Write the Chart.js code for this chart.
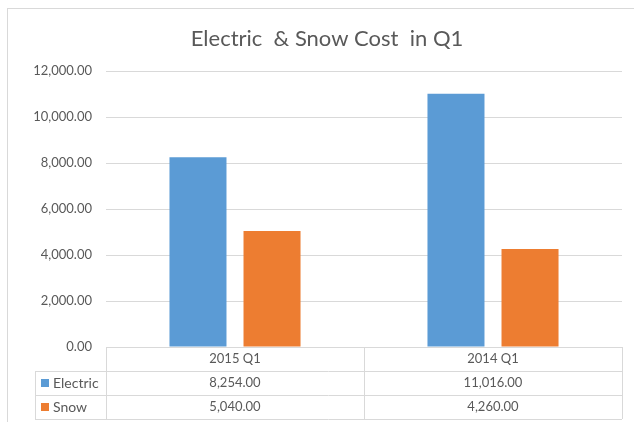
<!DOCTYPE html>
<html>
<head>
<meta charset="utf-8">
<script src="https://cdn.jsdelivr.net/npm/chart.js@4"></script>
<style>
  html, body { margin: 0; padding: 0; background: #fff; }
  #wrap { width: 634px; height: 422px; }
</style>
</head>
<body>
<div id="wrap"><canvas id="costChart"></canvas></div>
<script>
const categories = ['2015 Q1', '2014 Q1'];
const electric = [8254, 11016];
const snow = [5040, 4260];
const yTicks = [0, 2000, 4000, 6000, 8000, 10000, 12000];

const textColor = '#595959';
const lineColor = '#d9d9d9';
const fontFamily = 'Lato, "Liberation Sans", sans-serif';

const fmt = v => v.toLocaleString('en-US', { minimumFractionDigits: 2, maximumFractionDigits: 2 });

// outer frame + data table under the plot
const dataTable = {
  id: 'dataTable',
  afterDraw(chart) {
    const c = chart.ctx;
    const x = chart.scales.x;
    const area = chart.chartArea;
    const rowH = 24;
    const labelLeft = 35;
    const colW = x.width / categories.length;
    const top = area.bottom;

    c.save();
    c.strokeStyle = lineColor;
    c.lineWidth = 1;

    // chart frame
    c.strokeRect(7.5, 8.5, 700, 500);

    c.beginPath();
    // horizontal lines
    c.moveTo(area.left, top + 0.5); c.lineTo(area.right, top + 0.5);
    for (let i = 1; i <= 3; i++) {
      c.moveTo(labelLeft, top + rowH * i + 0.5);
      c.lineTo(area.right, top + rowH * i + 0.5);
    }
    // vertical lines
    c.moveTo(labelLeft + 0.5, top + rowH); c.lineTo(labelLeft + 0.5, top + rowH * 3);
    for (let i = 0; i <= categories.length; i++) {
      const xx = Math.round(x.left + colW * i) + 0.5;
      c.moveTo(xx, top); c.lineTo(xx, top + rowH * 3);
    }
    c.stroke();

    c.fillStyle = textColor;
    c.font = '13px ' + fontFamily;
    c.textAlign = 'center';
    c.textBaseline = 'middle';
    categories.forEach((cat, i) => {
      c.fillText(cat, x.getPixelForValue(i), top + rowH * 0.5);
    });

    chart.data.datasets.forEach((ds, r) => {
      const cy = top + rowH * (r + 1.5);
      c.fillStyle = ds.backgroundColor;
      c.fillRect(41, Math.round(cy - 4), 8, 8);
      c.fillStyle = textColor;
      c.textAlign = 'left';
      c.font = '14px ' + fontFamily;
      c.fillText(ds.label, 53, cy);
      c.textAlign = 'center';
      c.font = '13px ' + fontFamily;
      ds.data.forEach((v, i) => {
        c.fillText(fmt(v), x.getPixelForValue(i), cy);
      });
    });
    c.restore();
  }
};

new Chart(document.getElementById('costChart'), {
  type: 'bar',
  data: {
    labels: categories,
    datasets: [
      { label: 'Electric', data: electric, backgroundColor: '#5B9BD5' },
      { label: 'Snow', data: snow, backgroundColor: '#ED7D31' }
    ]
  },
  options: {
    responsive: true,
    maintainAspectRatio: false,
    animation: false,
    categoryPercentage: 0.574,
    barPercentage: 0.77,
    layout: { padding: { left: 32, right: 12, top: 0, bottom: 75 } },
    plugins: {
      legend: { display: false },
      tooltip: { enabled: false },
      title: {
        display: true,
        text: 'Electric  & Snow Cost  in Q1',
        color: textColor,
        font: { family: fontFamily, size: 22, weight: 'normal' },
        padding: { top: 26, bottom: 18.6 }
      }
    },
    scales: {
      x: { display: false },
      y: {
        min: 0,
        max: 12000,
        afterFit: s => { s.width = 74; },
        afterBuildTicks: s => { s.ticks = yTicks.map(v => ({ value: v })); },
        ticks: {
          color: textColor,
          padding: 14,
          font: { family: fontFamily, size: 13 },
          callback: v => fmt(v)
        },
        grid: { color: lineColor, drawTicks: false },
        border: { display: false }
      }
    }
  },
  plugins: [dataTable]
});
</script>
</body>
</html>
